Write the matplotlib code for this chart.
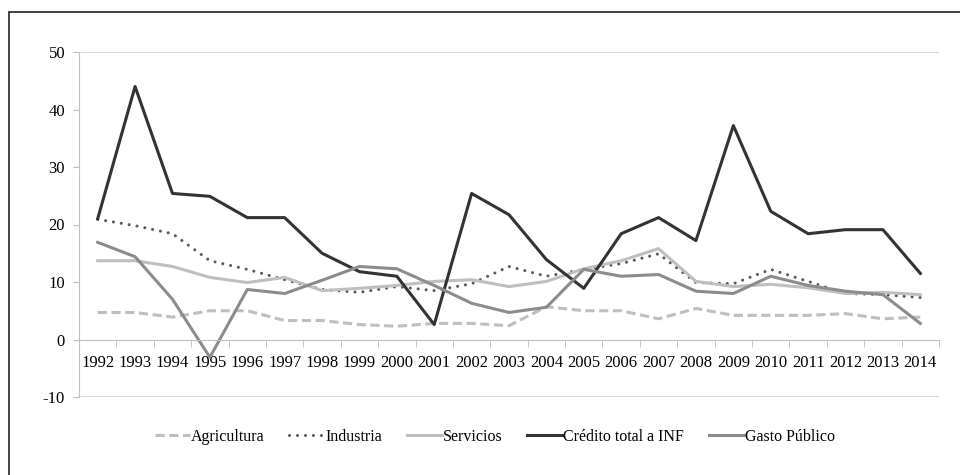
import matplotlib.pyplot as plt
from matplotlib.patches import Rectangle

plt.rcParams['font.family'] = ['Liberation Serif', 'DejaVu Serif']
plt.rcParams['axes.unicode_minus'] = False

years = [str(y) for y in range(1992, 2015)]

agricultura = [4.7, 4.7, 3.9, 5.0, 5.0, 3.3, 3.3, 2.6, 2.3, 2.8, 2.8, 2.4,
               5.7, 5.0, 5.0, 3.6, 5.4, 4.2, 4.2, 4.2, 4.5, 3.6, 3.9]
industria = [20.9, 19.8, 18.4, 13.7, 12.2, 10.4, 8.7, 8.2, 9.2, 8.5, 9.7, 12.7,
             11.0, 12.2, 13.2, 14.9, 9.9, 9.7, 12.2, 10.1, 8.0, 7.8, 7.3]
servicios = [13.7, 13.7, 12.7, 10.8, 9.9, 10.8, 8.5, 8.9, 9.4, 10.1, 10.4, 9.2,
             10.1, 12.3, 13.7, 15.8, 10.1, 9.2, 9.6, 9.0, 8.0, 8.2, 7.8]
credito = [21.0, 44.0, 25.4, 24.9, 21.2, 21.2, 15.0, 11.8, 11.0, 2.6, 25.4, 21.7,
           13.9, 8.9, 18.4, 21.2, 17.2, 37.2, 22.3, 18.4, 19.1, 19.1, 11.5]
gasto = [16.9, 14.4, 7.0, -3.1, 8.7, 8.0, 10.3, 12.7, 12.3, 9.4, 6.3, 4.7,
         5.6, 12.2, 11.0, 11.3, 8.4, 8.0, 11.0, 9.4, 8.4, 7.8, 2.8]

fig = plt.figure(figsize=(9.6, 4.75), dpi=100)
fig.patches.append(Rectangle((9 / 960, -0.1), 1.2, 1 - 12 / 475 + 0.1,
                             transform=fig.transFigure, fill=False,
                             edgecolor='#222222', linewidth=1.2))
ax = fig.add_axes([79 / 960, 1 - 397 / 475, (939 - 79) / 960, (397 - 52) / 475])

x = list(range(len(years)))
lw = 2.2
ax.plot(x, agricultura, color='#bfbfbf', lw=lw, linestyle=(0, (3, 1.5)), label='Agricultura')
ax.plot(x, industria, color='#595959', lw=lw, linestyle=(0, (0.01, 2.6)),
        dash_capstyle='round', label='Industria')
ax.plot(x, servicios, color='#bfbfbf', lw=lw, label='Servicios')
ax.plot(x, credito, color='#333333', lw=lw, label='Crédito total a INF')
ax.plot(x, gasto, color='#8c8c8c', lw=lw, label='Gasto Público')

ax.set_xlim(-0.5, len(years) - 0.5)
ax.set_ylim(-10, 50)
ax.set_yticks(range(-10, 51, 10))
ax.tick_params(axis='y', labelsize=12, length=4, color='#bfbfbf', pad=6)

for s in ['top', 'right']:
    ax.spines[s].set_visible(False)
ax.spines['left'].set_color('#bfbfbf')
ax.spines['bottom'].set_position(('data', 0))
ax.spines['bottom'].set_color('#bfbfbf')
ax.axhline(50, color='#d0d0d0', lw=1.2, zorder=0)
ax.axhline(-10, color='#d0d0d0', lw=1.2, zorder=0)

ax.set_xticks(x)
ax.set_xticklabels(years)
ax.set_xticks([i - 0.5 for i in range(len(years) + 1)], minor=True)
ax.tick_params(axis='x', which='major', length=0, labelsize=12, pad=11)
ax.tick_params(axis='x', which='minor', length=5, color='#bfbfbf')

fig.legend(loc='center', bbox_to_anchor=(495 / 960, 1 - 437 / 475), ncol=5, frameon=False,
           fontsize=11.5, handlelength=2.2, handletextpad=0.05, columnspacing=1.55)

fig.savefig('out.png', dpi=100)
